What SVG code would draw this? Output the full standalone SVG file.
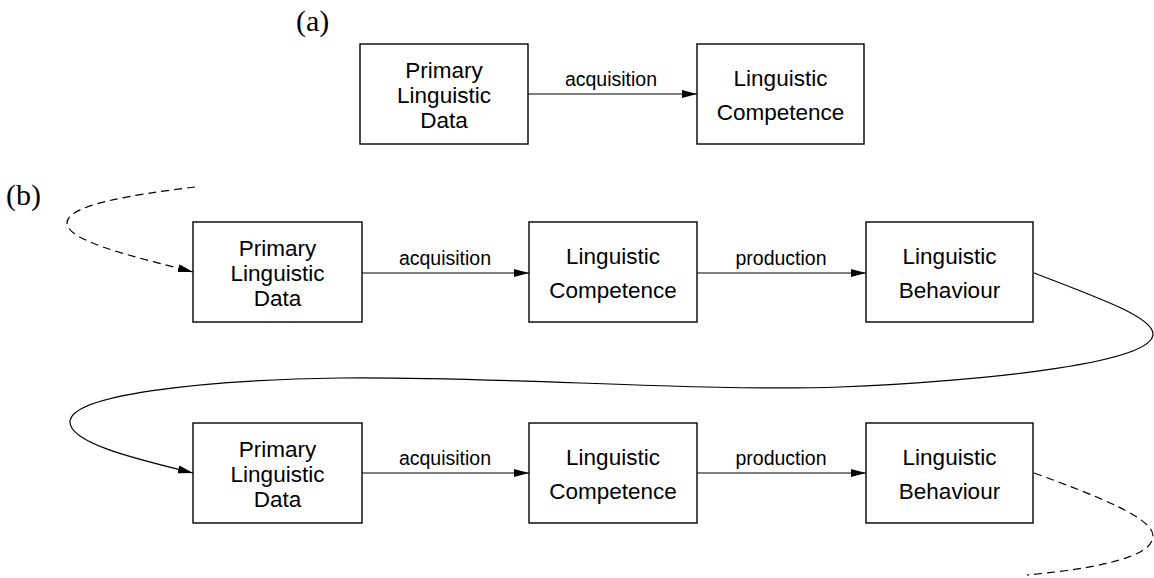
<svg xmlns="http://www.w3.org/2000/svg" width="1154" height="578" viewBox="0 0 1154 578">
<style>
.box{fill:#fff;stroke:#000;stroke-width:1.4}
.nt{font-family:"Liberation Sans",Arial,sans-serif;font-size:22.5px;text-anchor:middle;fill:#000}
.et{font-family:"Liberation Sans",Arial,sans-serif;font-size:19.5px;text-anchor:middle;fill:#000}
.pl{font-family:"Liberation Serif","Times New Roman",serif;font-size:30px;fill:#000}
.ed{fill:none;stroke:#000;stroke-width:1.2}
.dash{stroke-dasharray:8 5}
</style>
<defs>
<marker id="ah" markerUnits="userSpaceOnUse" markerWidth="16" markerHeight="10" refX="15" refY="4" orient="auto">
<path d="M0,0 L15,4 L0,8 z" fill="#000"/>
</marker>
</defs>
<text class="pl" x="296" y="31">(a)</text>
<text class="pl" x="6" y="205">(b)</text>
<g id="connectors">
<line class="ed" x1="528" y1="94" x2="697" y2="94" marker-end="url(#ah)"/>
<text class="et" x="611" y="86">acquisition</text>
<line class="ed" x1="362" y1="273" x2="529" y2="273" marker-end="url(#ah)"/>
<text class="et" x="445" y="265">acquisition</text>
<line class="ed" x1="697" y1="273" x2="866" y2="273" marker-end="url(#ah)"/>
<text class="et" x="781" y="265">production</text>
<line class="ed" x1="362" y1="473" x2="529" y2="473" marker-end="url(#ah)"/>
<text class="et" x="445" y="465">acquisition</text>
<line class="ed" x1="697" y1="473" x2="866" y2="473" marker-end="url(#ah)"/>
<text class="et" x="781" y="465">production</text>
<path class="ed dash" d="M195,187 C130,195 67,205 67,223 C67,242 140,258 193,272" marker-end="url(#ah)"/>
<path class="ed" d="M1034,273 C1105,300 1153,318 1153,334 C1153,362 1000,380 840,387 C700,392 500,376 340,378 C200,380 70,395 70,422 C70,445 150,462 193,473" marker-end="url(#ah)"/>
<path class="ed dash" d="M1034,473 C1100,497 1153,518 1153,536 C1153,560 1080,570 1027,575"/>
</g>
<g id="a-pld"><rect class="box" x="360" y="44" width="168" height="100"/>
<text class="nt" x="444" y="78">Primary</text><text class="nt" x="444" y="103">Linguistic</text><text class="nt" x="444" y="128">Data</text></g>
<g id="a-lc"><rect class="box" x="697" y="44" width="167" height="100"/>
<text class="nt" x="780.5" y="86">Linguistic</text><text class="nt" x="780.5" y="120">Competence</text></g>
<g id="b1-pld"><rect class="box" x="193" y="222" width="169" height="100"/>
<text class="nt" x="277.5" y="256">Primary</text><text class="nt" x="277.5" y="281">Linguistic</text><text class="nt" x="277.5" y="306">Data</text></g>
<g id="b1-lc"><rect class="box" x="529" y="222" width="168" height="100"/>
<text class="nt" x="613" y="264">Linguistic</text><text class="nt" x="613" y="298">Competence</text></g>
<g id="b1-lb"><rect class="box" x="866" y="222" width="167" height="100"/>
<text class="nt" x="949.5" y="264">Linguistic</text><text class="nt" x="949.5" y="298">Behaviour</text></g>
<g id="b2-pld"><rect class="box" x="193" y="423" width="169" height="100"/>
<text class="nt" x="277.5" y="457">Primary</text><text class="nt" x="277.5" y="482">Linguistic</text><text class="nt" x="277.5" y="507">Data</text></g>
<g id="b2-lc"><rect class="box" x="529" y="423" width="168" height="100"/>
<text class="nt" x="613" y="465">Linguistic</text><text class="nt" x="613" y="499">Competence</text></g>
<g id="b2-lb"><rect class="box" x="866" y="423" width="167" height="100"/>
<text class="nt" x="949.5" y="465">Linguistic</text><text class="nt" x="949.5" y="499">Behaviour</text></g>
</svg>
